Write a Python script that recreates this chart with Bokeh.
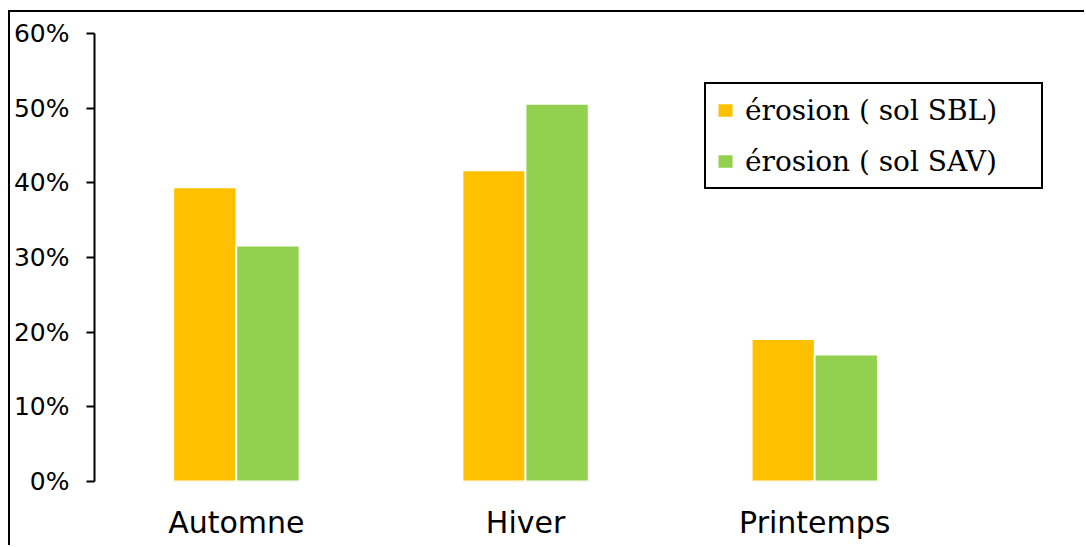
from bokeh.plotting import figure
from bokeh.models import (ColumnDataSource, FixedTicker, NumeralTickFormatter, Range1d,
                          Legend, LegendItem)
from bokeh.transform import dodge
from bokeh.embed import file_html
from bokeh.resources import INLINE

# ---- data ----
seasons = ["Automne", "Hiver", "Printemps"]
erosion_sbl = [0.394, 0.417, 0.191]
erosion_sav = [0.316, 0.506, 0.170]
series_labels = ["érosion ( sol SBL)", "érosion ( sol SAV)"]
y_ticks = [0.0, 0.1, 0.2, 0.3, 0.4, 0.5, 0.6]

ORANGE = "#FFC000"
GREEN = "#92D050"

src = ColumnDataSource(dict(
    x=list(range(len(seasons))),
    sbl=erosion_sbl,
    sav=erosion_sav,
))

p = figure(width=1076, height=535, output_backend="svg", toolbar_location=None,
           x_range=Range1d(-0.4905, 2.8497), y_range=Range1d(0, 0.6),
           min_border_left=83, min_border_right=26, min_border_top=21, min_border_bottom=66)
# outer chart frame: only the top and left edges are visible in the picture
p.styles = {"margin-left": "8px", "margin-top": "10px",
            "border-top": "2px solid black", "border-left": "2px solid black"}

p.background_fill_color = "white"
p.border_fill_color = "white"
p.outline_line_color = None
p.xgrid.visible = False
p.ygrid.visible = False

r1 = p.vbar(x=dodge("x", -0.109, range=p.x_range), top="sbl", width=0.219, source=src,
            fill_color=ORANGE, line_color="white", line_width=2)
r2 = p.vbar(x=dodge("x", 0.109, range=p.x_range), top="sav", width=0.219, source=src,
            fill_color=GREEN, line_color="white", line_width=2)

# y axis
ya = p.yaxis[0]
ya.ticker = FixedTicker(ticks=y_ticks)
ya.formatter = NumeralTickFormatter(format="0%")
ya.axis_line_color = "black"
ya.axis_line_width = 2
ya.major_tick_line_color = "black"
ya.major_tick_line_width = 2
ya.major_tick_out = 8
ya.major_tick_in = 0
ya.minor_tick_line_color = None
ya.major_label_text_font = "DejaVu Sans"
ya.major_label_text_font_size = "25px"
ya.major_label_text_color = "black"
ya.major_label_standoff = 17

# x axis
xa = p.xaxis[0]
xa.ticker = FixedTicker(ticks=list(range(len(seasons))))
xa.major_label_overrides = {i: s for i, s in enumerate(seasons)}
xa.axis_line_color = None
xa.major_tick_line_color = None
xa.minor_tick_line_color = None
xa.major_label_text_font = "DejaVu Sans"
xa.major_label_text_font_size = "30px"
xa.major_label_text_color = "black"
xa.major_label_standoff = 17

legend = Legend(items=[LegendItem(label=series_labels[0], renderers=[r1]),
                       LegendItem(label=series_labels[1], renderers=[r2])],
                location=(610, 292))
legend.label_text_font = "DejaVu Serif"
legend.label_text_font_size = "28px"
legend.label_text_color = "black"
legend.label_height = 34
legend.label_width = 287
legend.glyph_height = 18
legend.glyph_width = 20
legend.label_standoff = 10
legend.spacing = 17
legend.padding = 9
legend.margin = 0
legend.border_line_color = "black"
legend.border_line_width = 2
legend.border_line_alpha = 1
legend.background_fill_color = "white"
legend.background_fill_alpha = 1
p.add_layout(legend)

open("out.html", "w").write(file_html(p, INLINE))
